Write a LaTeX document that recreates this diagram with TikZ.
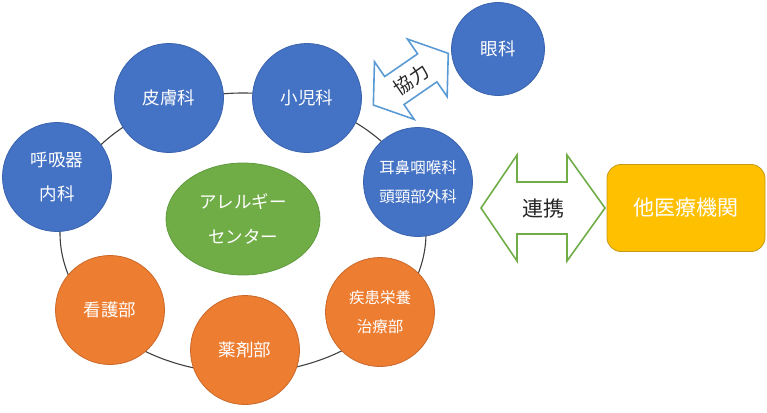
\documentclass[tikz,border=0pt]{standalone}
\usepackage{fontspec}
\usetikzlibrary{shapes.geometric}
\setmainfont{Noto Sans CJK JP}
\definecolor{cblue}{HTML}{4472C4}
\definecolor{cblueb}{HTML}{3A63AD}
\definecolor{corange}{HTML}{ED7D31}
\definecolor{coranb}{HTML}{C9682A}
\definecolor{cgreen}{HTML}{70AD47}
\definecolor{cgreenb}{HTML}{5F9A3C}
\definecolor{cgold}{HTML}{FFC000}
\definecolor{cgoldb}{HTML}{C49A14}
\definecolor{cltblue}{HTML}{5B9BD5}
\definecolor{ringc}{HTML}{404040}
\begin{document}
\begin{tikzpicture}[x=1pt,y=-1pt,
  dept/.style={circle,minimum size=109pt,inner sep=0pt,align=center,text=white,
    font=\fontsize{17.5}{34}\selectfont,line width=0.8pt},
  bluedept/.style={dept,fill=cblue,draw=cblueb},
  orangedept/.style={dept,fill=corange,draw=coranb},
  smalltxt/.style={font=\fontsize{15.5}{29.5}\selectfont},
  ringline/.style={draw=ringc,line width=1.1pt},
  arrowbox/.style={fill=white,line width=1.6pt,line join=miter}
]
\useasboundingbox (0,0) rectangle (767,412);
% ring
\draw[ringline] (243,233) ellipse [x radius=183, y radius=140];
% centre
\node[ellipse,minimum width=154pt,minimum height=112pt,inner sep=0pt,fill=cgreen,draw=cgreenb,line width=0.8pt,
  text=white,align=center,font=\fontsize{17.5}{35}\selectfont] (center) at (243,219) {アレルギー\\センター};
% departments
\node[bluedept] (kokyu) at (57,177) {呼吸器\\内科};
\node[bluedept] (hifu) at (169,98) {皮膚科};
\node[bluedept] (shoni) at (307,98) {小児科};
\node[bluedept,smalltxt] (jibi) at (418,182) {耳鼻咽喉科\\頭頸部外科};
\node[orangedept] (kango) at (110,310) {看護部};
\node[orangedept] (yaku) at (245,350) {薬剤部};
\node[orangedept,smalltxt] (shikkan) at (380,312) {疾患栄養\\治療部};
\node[bluedept,minimum size=93pt] (ganka) at (498,49) {眼科};
% cooperation arrow
\begin{scope}[shift={(410.8,79.2)},rotate=34.6]
\draw[arrowbox,draw=cltblue] (-45.5,0) -- (-20,35) -- (-20,17) -- (20,17) -- (20,35) -- (45.5,0)
  -- (20,-35) -- (20,-17) -- (-20,-17) -- (-20,-35) -- cycle;
\node[rotate=34.6,inner sep=0pt,font=\fontsize{19}{20}\selectfont,text=black!85] (kyoryoku) at (0,1) {協力};
\end{scope}
% liaison arrow
\draw[arrowbox,draw=cgreen] (481,208) -- (517,155) -- (517,182) -- (567,182) -- (567,155) -- (605,208)
  -- (567,261) -- (567,234) -- (517,234) -- (517,261) -- cycle;
\node[font=\fontsize{21}{24}\selectfont,text=black!85] (renkei) at (543,209) {連携};
% other institutions
\node[draw=cgoldb,fill=cgold,line width=0.8pt,rounded corners=14pt,minimum width=158pt,minimum height=87pt,
  inner sep=0pt,text=white,font=\fontsize{21}{24}\selectfont] (other) at (686,208) {他医療機関};
\end{tikzpicture}
\end{document}
